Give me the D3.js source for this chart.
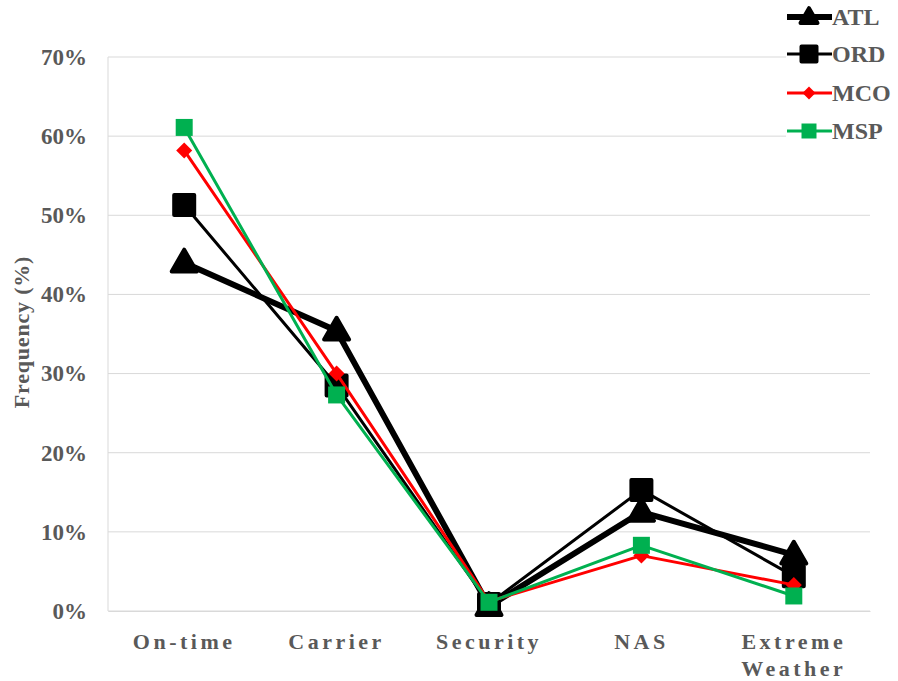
<!DOCTYPE html>
<html>
<head>
<meta charset="utf-8">
<script src="https://cdn.jsdelivr.net/npm/d3@7"></script>
<style>
  html, body { margin: 0; padding: 0; background: #fff; }
  svg text { font-family: "Liberation Serif", "Times New Roman", serif; font-weight: bold; fill: #595959; }
</style>
</head>
<body>
<svg id="chart" width="898" height="681"></svg>
<script>
// Delay cause categories
const categories = ["On-time", "Carrier", "Security", "NAS", "Extreme Weather"];
const yTicks = [0, 0.1, 0.2, 0.3, 0.4, 0.5, 0.6, 0.7];

// Share of flights per cause, by airport
const atl = [0.440, 0.354, 0.006, 0.125, 0.071];
const ord = [0.513, 0.285, 0.009, 0.153, 0.044];
const mco = [0.582, 0.300, 0.012, 0.070, 0.033];
const msp = [0.611, 0.273, 0.011, 0.083, 0.019];

// Each series: line width, marker shape, marker size on the plot and in the legend
const series = [
  { name: "ATL", values: atl, color: "#000000", width: 6, shape: "triangle", size: 25, legendSize: 17, outline: 4 },
  { name: "ORD", values: ord, color: "#000000", width: 3, shape: "square", size: 20, legendSize: 15, outline: 4 },
  { name: "MCO", values: mco, color: "#FF0000", width: 3, shape: "diamond", size: 16, legendSize: 13, outline: 0 },
  { name: "MSP", values: msp, color: "#00B050", width: 3, shape: "square", size: 17, legendSize: 15, outline: 0 }
];

const svg = d3.select("#chart");
const margin = { left: 108, right: 28, top: 57, bottom: 70 };
const W = 898, H = 681;

const x = d3.scaleBand().domain(categories).range([margin.left, W - margin.right]);
const y = d3.scaleLinear().domain([0, 0.7]).range([H - margin.bottom, margin.top]);

// Horizontal gridlines
svg.append("g").selectAll("line").data(yTicks).join("line")
  .attr("x1", margin.left).attr("x2", W - margin.right)
  .attr("y1", d => y(d)).attr("y2", d => y(d))
  .attr("stroke", "#d9d9d9").attr("stroke-width", 1);

// Left axis line
svg.append("line")
  .attr("x1", margin.left).attr("x2", margin.left)
  .attr("y1", y(0.7)).attr("y2", y(0))
  .attr("stroke", "#d9d9d9").attr("stroke-width", 1);

// Y axis labels
const yAxis = d3.axisLeft(y).tickValues(yTicks).tickFormat(d3.format(".0%")).tickSize(0).tickPadding(21);
const gy = svg.append("g").attr("transform", `translate(${margin.left},0)`).call(yAxis);
gy.select(".domain").remove();
gy.selectAll("text").attr("font-size", 23).attr("font-family", null);

// X axis labels (wrapped onto two lines where needed)
const xAxis = d3.axisBottom(x).tickSize(0).tickPadding(0).tickFormat("");
const gx = svg.append("g").attr("transform", `translate(0,${y(0)})`).call(xAxis);
gx.select(".domain").attr("stroke", "#d9d9d9");
gx.selectAll(".tick").each(function (d) {
  const words = d.split(" ");
  const t = d3.select(this).append("text")
    .attr("text-anchor", "middle")
    .attr("font-size", 22)
    .style("letter-spacing", "3.5px");
  words.forEach((w, i) => {
    t.append("tspan").attr("x", 0).attr("y", 38 + i * 27).text(w);
  });
});

// Y axis title
svg.append("text")
  .attr("transform", "translate(29,332) rotate(-90)")
  .attr("text-anchor", "middle")
  .attr("font-size", 22)
  .style("letter-spacing", "0.8px")
  .text("Frequency (%)");

function markerPath(shape, s) {
  if (shape === "triangle") {
    const h = s * 0.87;
    return `M0,${-h * 0.6}L${s / 2},${h * 0.4}L${-s / 2},${h * 0.4}Z`;
  }
  if (shape === "diamond") {
    return `M0,${-s / 2}L${s / 2},0L0,${s / 2}L${-s / 2},0Z`;
  }
  return `M${-s / 2},${-s / 2}H${s / 2}V${s / 2}H${-s / 2}Z`;
}

const line = d3.line()
  .x((d, i) => x(categories[i]) + x.bandwidth() / 2)
  .y(d => y(d));

series.forEach(s => {
  const g = svg.append("g");
  g.append("path")
    .attr("d", line(s.values))
    .attr("fill", "none")
    .attr("stroke", s.color)
    .attr("stroke-width", s.width)
    .attr("stroke-linejoin", "round");
  g.selectAll("path.m").data(s.values).join("path")
    .attr("class", "m")
    .attr("transform", (d, i) => `translate(${x(categories[i]) + x.bandwidth() / 2},${y(d)})`)
    .attr("d", markerPath(s.shape, s.size))
    .attr("fill", s.color)
    .attr("stroke", s.color)
    .attr("stroke-width", s.outline)
    .attr("stroke-linejoin", "round");
});

// Legend (white box over the top-right of the plot)
const legend = svg.append("g");
legend.append("rect")
  .attr("x", 786).attr("y", 0).attr("width", 112).attr("height", 150)
  .attr("fill", "#fff");
const ly = [17, 54, 93, 131];
series.forEach((s, i) => {
  const g = legend.append("g").attr("transform", `translate(787,${ly[i]})`);
  g.append("line").attr("x1", 0).attr("x2", 45).attr("y1", 0).attr("y2", 0)
    .attr("stroke", s.color).attr("stroke-width", s.width);
  g.append("path")
    .attr("transform", "translate(22,0)")
    .attr("d", markerPath(s.shape, s.legendSize))
    .attr("fill", s.color)
    .attr("stroke", s.color)
    .attr("stroke-width", s.outline)
    .attr("stroke-linejoin", "round");
  g.append("text").attr("x", 45).attr("y", 8).attr("font-size", 24).text(s.name);
});
</script>
</body>
</html>
